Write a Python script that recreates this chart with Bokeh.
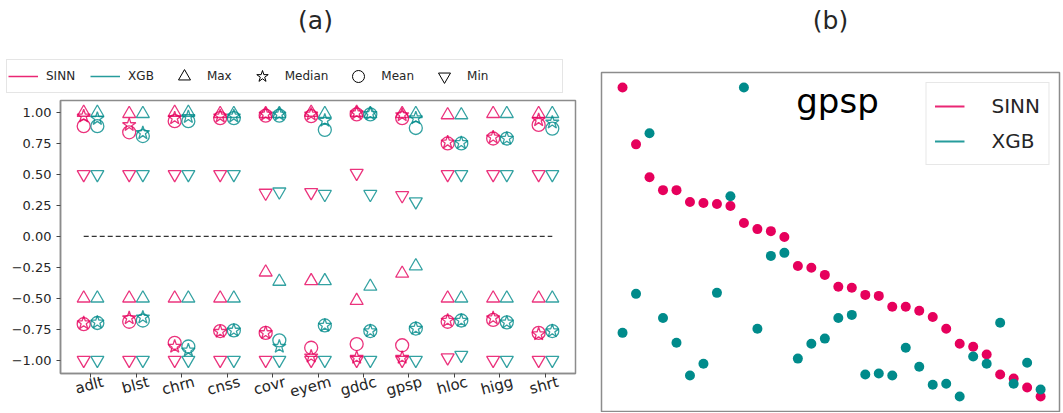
import numpy as np
from bokeh.plotting import figure
from bokeh.layouts import row, column
from bokeh.models import (Legend, LegendItem, Label, FixedTicker,
                          CustomJSTickFormatter, Range1d, ColumnDataSource)
from bokeh.embed import file_html
from bokeh.resources import INLINE

# ---------------- data: panel (a) ----------------
datasets = ["adlt", "blst", "chrn", "cnss", "covr", "eyem", "gddc", "gpsp", "hloc", "higg", "shrt"]

# positive cluster
sinn_pos_max = [1.00, 0.99, 1.00, 0.99, 0.99, 1.00, 1.00, 0.99, 0.98, 0.99, 0.99]
sinn_pos_median = [0.97, 0.90, 0.955, 0.97, 0.985, 0.985, 0.995, 0.98, 0.76, 0.80, 0.94]
sinn_pos_mean = [0.89, 0.84, 0.93, 0.955, 0.975, 0.97, 0.985, 0.955, 0.75, 0.79, 0.90]
sinn_pos_min = [0.50, 0.50, 0.50, 0.50, 0.35, 0.355, 0.51, 0.33, 0.50, 0.50, 0.50]
xgb_pos_max = [1.00, 0.99, 1.00, 0.99, 0.99, 0.99, 0.99, 0.99, 0.98, 0.99, 0.99]
xgb_pos_median = [0.95, 0.835, 0.965, 0.97, 0.985, 0.935, 0.99, 0.955, 0.755, 0.79, 0.92]
xgb_pos_mean = [0.89, 0.81, 0.93, 0.955, 0.975, 0.86, 0.985, 0.875, 0.75, 0.79, 0.87]
xgb_pos_min = [0.50, 0.50, 0.50, 0.50, 0.36, 0.34, 0.34, 0.28, 0.50, 0.50, 0.50]

# negative cluster
sinn_neg_max = [-0.50, -0.50, -0.50, -0.50, -0.29, -0.36, -0.52, -0.30, -0.50, -0.50, -0.50]
sinn_neg_median = [-0.70, -0.66, -0.89, -0.77, -0.78, -0.97, -0.98, -0.98, -0.68, -0.66, -0.79]
sinn_neg_mean = [-0.71, -0.69, -0.86, -0.765, -0.78, -0.90, -0.87, -0.88, -0.69, -0.675, -0.78]
sinn_neg_min = [-1.00, -1.00, -1.00, -1.00, -1.00, -1.00, -1.00, -1.00, -0.98, -1.00, -1.00]
xgb_neg_max = [-0.50, -0.50, -0.50, -0.50, -0.365, -0.36, -0.405, -0.24, -0.50, -0.50, -0.50]
xgb_neg_median = [-0.695, -0.655, -0.92, -0.76, -0.89, -0.72, -0.765, -0.745, -0.68, -0.695, -0.765]
xgb_neg_mean = [-0.70, -0.68, -0.89, -0.76, -0.84, -0.72, -0.765, -0.745, -0.68, -0.695, -0.765]
xgb_neg_min = [-1.00, -1.00, -1.00, -1.00, -1.00, -1.00, -1.00, -1.00, -0.96, -1.00, -1.00]

y_ticks = [-1.0, -0.75, -0.5, -0.25, 0.0, 0.25, 0.5, 0.75, 1.0]

# ---------------- data: panel (b) ----------------
gpsp_sinn = [95.6, 78.8, 69.1, 65.3, 65.3, 61.8, 61.5, 61.2, 60.6, 55.6, 53.8, 53.2, 51.5,
             42.9, 42.4, 40.3, 36.8, 36.5, 34.4, 34.1, 30.9, 30.9, 29.7, 27.9, 24.4, 20.0,
             19.1, 16.8, 10.9, 9.7, 7.1, 4.4]
gpsp_xgb = [23.2, 34.7, 82.1, 27.6, 20.3, 10.6, 14.1, 35.0, 63.5, 95.6, 24.4, 45.9, 46.8,
            15.6, 20.0, 21.5, 27.6, 28.5, 10.9, 11.2, 10.6, 18.8, 13.2, 7.9, 8.2, 4.4,
            16.2, 14.1, 26.2, 8.2, 14.4, 6.5]

# ---------------- style ----------------
PINK = "#E6005C"
TEAL = "#008B8B"
FONT = "DejaVu Sans"
FRAME = "#8c8c8c"
TXT = "#262626"
NAN = [np.nan]


def header(width, height):
    h = figure(width=width, height=height, x_range=Range1d(0, 1), y_range=Range1d(0, 1),
               output_backend="svg", toolbar_location=None,
               x_axis_location=None, y_axis_location=None,
               min_border_left=0, min_border_right=0, min_border_top=0, min_border_bottom=0)
    h.grid.visible = False
    h.outline_line_color = None
    return h


# ================= header of panel (a): title + legend =================
hdr = header(590, 97)
r_s = hdr.line(NAN, NAN, line_color=PINK, line_width=1.5, line_alpha=0.85)
r_x = hdr.line(NAN, NAN, line_color=TEAL, line_width=1.5, line_alpha=0.85)
r_max = hdr.scatter(NAN, NAN, marker="triangle", fill_color=None, line_color="black", line_width=1)
r_med = hdr.scatter(NAN, NAN, marker="star", fill_color=None, line_color="black", line_width=1)
r_mean = hdr.scatter(NAN, NAN, marker="circle", fill_color=None, line_color="black", line_width=1)
r_min = hdr.scatter(NAN, NAN, marker="inverted_triangle", fill_color=None, line_color="black", line_width=1)
r_pad = hdr.line(NAN, NAN, line_alpha=0)
leg1 = Legend(items=[LegendItem(label="SINN", renderers=[r_s]),
                     LegendItem(label="XGB", renderers=[r_x]),
                     LegendItem(label="Max", renderers=[r_max]),
                     LegendItem(label="Median", renderers=[r_med]),
                     LegendItem(label="Mean", renderers=[r_mean]),
                     LegendItem(label="Min", renderers=[r_min]),
                     LegendItem(label="", renderers=[r_pad])],
              orientation="horizontal", location=(6, 4),
              glyph_width=30, glyph_height=30, label_standoff=8, spacing=15,
              padding=1, margin=0, label_text_font=FONT, label_text_font_size="12px",
              label_text_color=TXT, border_line_color="#cccccc", border_line_width=1,
              background_fill_color="white", background_fill_alpha=1.0)
hdr.add_layout(leg1)
hdr.add_layout(Label(x=315, y=77, x_units="screen", y_units="screen", text="(a)",
                     text_font=FONT, text_font_size="25px", text_color=TXT,
                     text_align="center", text_baseline="middle"))

# ================= panel (a) =================
p1 = figure(width=590, height=315, x_range=Range1d(-0.66, 10.66),
            y_range=Range1d(-1.108, 1.097), output_backend="svg",
            toolbar_location=None, min_border_left=60, min_border_right=15,
            min_border_top=3, min_border_bottom=31)
p1.grid.visible = False
p1.outline_line_color = FRAME
p1.outline_line_width = 1.5
p1.axis.axis_line_color = FRAME
p1.axis.axis_line_width = 1.5
p1.axis.major_label_text_font = FONT
p1.axis.major_label_text_color = TXT

p1.yaxis.ticker = FixedTicker(ticks=y_ticks)
p1.yaxis.formatter = CustomJSTickFormatter(
    code="return (tick < 0 ? '\u2212' : '') + Math.abs(tick).toFixed(2);")
p1.yaxis.major_label_text_font_size = "13px"
p1.yaxis.major_tick_line_color = "#444444"
p1.yaxis.major_tick_out = 4
p1.yaxis.major_tick_in = 0
p1.yaxis.minor_tick_line_color = None

idx = np.arange(len(datasets))
LBL_SHIFT = 0.28   # rotated labels are end-anchored; shift so they centre on the category
p1.xaxis.ticker = FixedTicker(ticks=[float(i) + LBL_SHIFT for i in idx],
                              minor_ticks=[float(i) for i in idx])
p1.xaxis.major_label_overrides = {float(i) + LBL_SHIFT: d for i, d in zip(idx, datasets)}
p1.xaxis.major_label_orientation = 0.26
p1.xaxis.major_label_text_font_size = "15px"
p1.xaxis.major_label_standoff = 4
p1.xaxis.major_tick_out = 0
p1.xaxis.major_tick_in = 0
p1.xaxis.minor_tick_out = 4
p1.xaxis.minor_tick_in = 0
p1.xaxis.minor_tick_line_color = "#444444"

OFF = 0.15
# zero reference line between first and last category
p1.line(x=[idx[0] - OFF, idx[-1] + OFF], y=[0, 0], line_color="#333333",
        line_width=1.3, line_dash="5 3")

markers = {"max": ("triangle", 13), "median": ("star", 14),
           "mean": ("circle", 13), "min": ("inverted_triangle", 13)}

series = [
    (PINK, -OFF, {"max": sinn_pos_max, "median": sinn_pos_median, "mean": sinn_pos_mean, "min": sinn_pos_min}),
    (PINK, -OFF, {"max": sinn_neg_max, "median": sinn_neg_median, "mean": sinn_neg_mean, "min": sinn_neg_min}),
    (TEAL, OFF, {"max": xgb_pos_max, "median": xgb_pos_median, "mean": xgb_pos_mean, "min": xgb_pos_min}),
    (TEAL, OFF, {"max": xgb_neg_max, "median": xgb_neg_median, "mean": xgb_neg_mean, "min": xgb_neg_min}),
]
for color, off, stats in series:
    for key, vals in stats.items():
        mk, sz = markers[key]
        src = ColumnDataSource(dict(x=idx + off, y=vals))
        p1.scatter("x", "y", source=src, marker=mk, size=sz, fill_color=None,
                   line_color=color, line_alpha=0.8, line_width=1.3)

# ================= header of panel (b) =================
hdr2 = header(472, 70)
hdr2.add_layout(Label(x=240, y=50, x_units="screen", y_units="screen", text="(b)",
                      text_font=FONT, text_font_size="25px", text_color=TXT,
                      text_align="center", text_baseline="middle"))

# ================= panel (b) =================
bx = np.arange(len(gpsp_sinn))
p2 = figure(width=472, height=342, x_range=Range1d(-1.56, 32.4), y_range=Range1d(0, 100),
            output_backend="svg", toolbar_location=None,
            x_axis_location=None, y_axis_location=None,
            min_border_left=11, min_border_right=3, min_border_top=2, min_border_bottom=1)
p2.grid.visible = False
p2.outline_line_color = FRAME
p2.outline_line_width = 1.5

p2.scatter(bx, gpsp_sinn, size=10, fill_color=PINK, line_color=None)
p2.scatter(bx, gpsp_xgb, size=10, fill_color=TEAL, line_color=None)

q_s = p2.line(NAN, NAN, line_color=PINK, line_width=2, line_alpha=0.85)
q_x = p2.line(NAN, NAN, line_color=TEAL, line_width=2, line_alpha=0.85)
leg2 = Legend(items=[LegendItem(label="SINN", renderers=[q_s]),
                     LegendItem(label="XGB", renderers=[q_x])],
              location="top_right", margin=10, padding=8, spacing=5,
              glyph_width=30, glyph_height=30, label_standoff=27,
              label_text_font=FONT, label_text_font_size="20px", label_text_color=TXT,
              border_line_color="#d0d0d0", border_line_width=1,
              background_fill_color="white", background_fill_alpha=1.0)
p2.add_layout(leg2)

p2.add_layout(Label(x=236, y=311, x_units="screen", y_units="screen", text="gpsp",
                    text_font=FONT, text_font_size="34px", text_color="black",
                    text_align="center", text_baseline="middle"))

left = column(column(hdr), column(p1))
right = column(column(hdr2), column(p2))
layout = row(left, right)
open("out.html", "w").write(file_html(layout, INLINE))
